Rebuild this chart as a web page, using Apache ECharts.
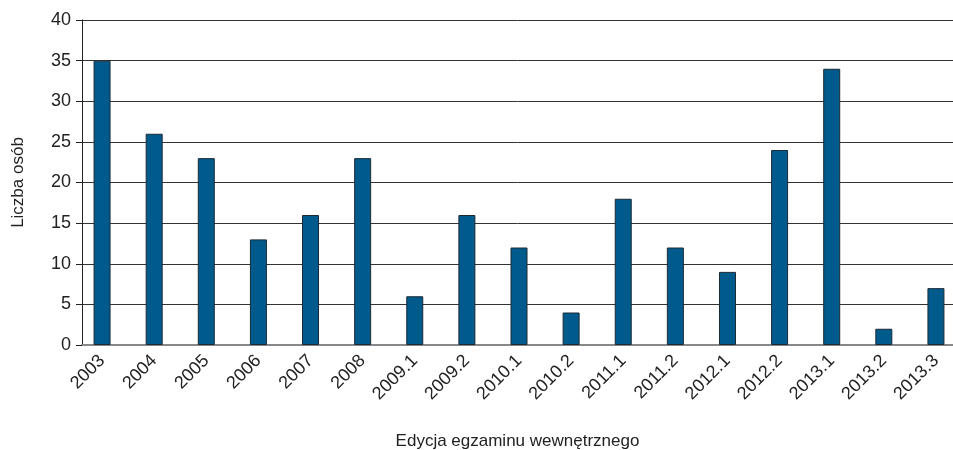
<!DOCTYPE html>
<html>
<head>
<meta charset="utf-8">
<script src="https://cdn.jsdelivr.net/npm/echarts@6/dist/echarts.min.js"></script>
<style>
  html, body { margin: 0; padding: 0; background: #fff; }
  #chart { width: 953px; height: 450px; }
</style>
</head>
<body>
<div id="chart"></div>
<script>
// edycje egzaminu i liczba osób
const editions = ['2003', '2004', '2005', '2006', '2007', '2008', '2009.1', '2009.2', '2010.1',
  '2010.2', '2011.1', '2011.2', '2012.1', '2012.2', '2013.1', '2013.2', '2013.3'];
const counts = [35, 26, 23, 13, 16, 23, 6, 16, 12, 4, 18, 12, 9, 24, 34, 2, 7];
const yTicks = [0, 5, 10, 15, 20, 25, 30, 35, 40];

const font = 'Liberation Sans, Arial, sans-serif';
const txt = '#222';

const chart = echarts.init(document.getElementById('chart'));
chart.setOption({
  animation: false,
  grid: [
    // słupki (kategorie lekko przesunięte względem osi Y, jak w oryginale)
    { left: 76, width: 886, top: 20, bottom: 105, outerBoundsMode: 'none', containLabel: false },
    // oś Y + linie siatki
    { left: 82, right: 0, top: 20, bottom: 105, outerBoundsMode: 'none', containLabel: false }
  ],
  xAxis: [
    {
      type: 'category', gridIndex: 0, data: editions,
      axisLine: { show: false }, axisTick: { show: false },
      axisLabel: { rotate: 45, margin: 13, fontSize: 18, color: txt, fontFamily: font, interval: 0 }
    },
    {
      type: 'value', gridIndex: 1, min: 0, max: 1,
      axisLabel: { show: false }, axisTick: { show: false }, splitLine: { show: false },
      axisLine: { show: true, lineStyle: { color: '#888', width: 2 } },
      name: 'Edycja egzaminu wewnętrznego', nameLocation: 'middle', nameGap: 88,
      nameTextStyle: { fontSize: 17, color: txt, fontFamily: font }
    }
  ],
  yAxis: [
    { type: 'value', gridIndex: 0, min: 0, max: 40, show: false },
    {
      type: 'value', gridIndex: 1, min: 0, max: yTicks[yTicks.length - 1], interval: 5,
      axisLine: { show: true, lineStyle: { color: '#222', width: 1 } },
      axisTick: { show: true, length: 6, lineStyle: { color: '#222' } },
      axisLabel: { fontSize: 18, color: txt, fontFamily: font, margin: 11 },
      splitLine: { show: true, lineStyle: { color: '#333', width: 1 } },
      name: 'Liczba osób', nameLocation: 'middle', nameGap: 55,
      nameTextStyle: { fontSize: 17, color: txt, fontFamily: font }
    }
  ],
  series: [{
    type: 'bar', xAxisIndex: 0, yAxisIndex: 0, data: counts,
    barWidth: 17,
    itemStyle: { color: '#005a8c', borderColor: '#1a2a36', borderWidth: 1 }
  }]
});
</script>
</body>
</html>
